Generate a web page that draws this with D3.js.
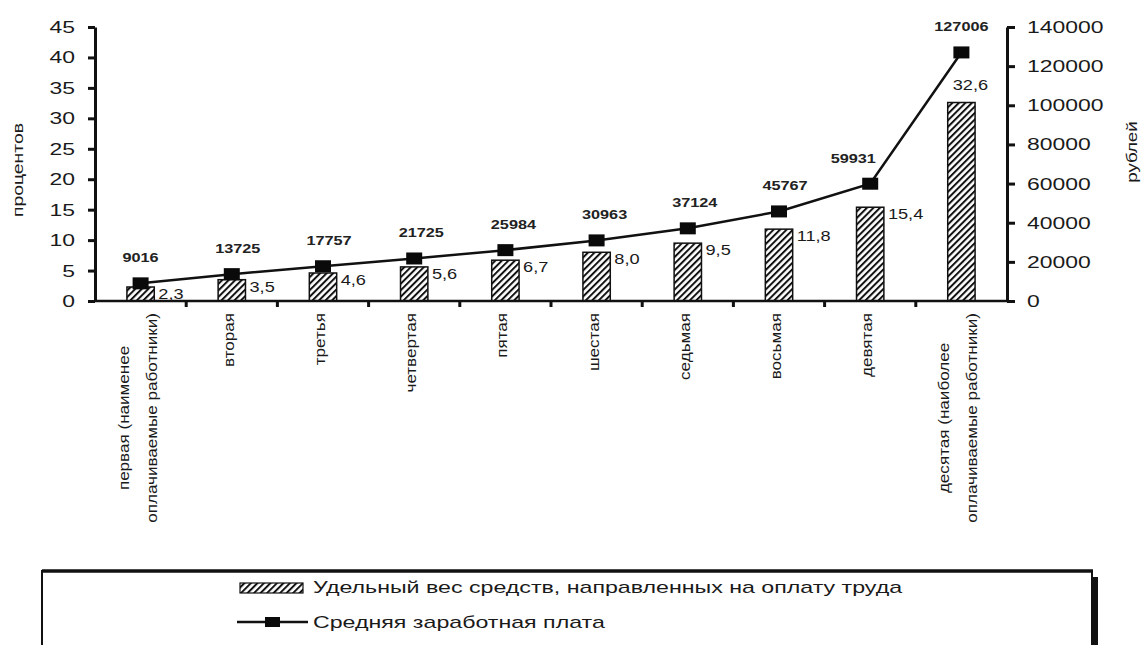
<!DOCTYPE html>
<html>
<head>
<meta charset="utf-8">
<script src="https://cdn.jsdelivr.net/npm/d3@7"></script>
<style>
  html, body { margin: 0; padding: 0; background: #fff; }
  svg { display: block; font-family: "Liberation Sans", Arial, sans-serif; }
</style>
</head>
<body>
<svg id="chart" width="1143" height="645"></svg>
<script>
// ---- data ----
const categories = [
  "первая (наименее\nоплачиваемые работники)",
  "вторая",
  "третья",
  "четвертая",
  "пятая",
  "шестая",
  "седьмая",
  "восьмая",
  "девятая",
  "десятая (наиболее\nоплачиваемые работники)"
];
const shareValues = [2.3, 3.5, 4.6, 5.6, 6.7, 8.0, 9.5, 11.8, 15.4, 32.6];
const wageValues = [9016, 13725, 17757, 21725, 25984, 30963, 37124, 45767, 59931, 127006];
const leftTicks = [0, 5, 10, 15, 20, 25, 30, 35, 40, 45];
const rightTicks = [0, 20000, 40000, 60000, 80000, 100000, 120000, 140000];
const leftTitle = "процентов";
const rightTitle = "рублей";
const legendLabels = ["Удельный вес средств, направленных на оплату труда", "Средняя заработная плата"];

// ---- layout ----
const plot = { left: 95, right: 1007, top: 27, bottom: 301 };
const lineLabelDx = [0, 6, 6, 7, 8, 8, 7, 6, -17, 0];

const svg = d3.select("#chart");
const defs = svg.append("defs");
defs.append("pattern")
  .attr("id", "hatch").attr("patternUnits", "userSpaceOnUse")
  .attr("width", 4.6).attr("height", 4.6)
  .attr("patternTransform", "rotate(45)")
  .call(p => {
    p.append("rect").attr("width", 4.6).attr("height", 4.6).attr("fill", "#fff");
    p.append("line").attr("x1", 1).attr("y1", 0).attr("x2", 1).attr("y2", 4.6)
      .attr("stroke", "#111").attr("stroke-width", 2);
  });

const x = d3.scaleBand().domain(d3.range(categories.length))
  .range([plot.left, plot.right]).paddingInner(0).paddingOuter(0);
const yL = d3.scaleLinear().domain([0, 45]).range([plot.bottom, plot.top]);
const yR = d3.scaleLinear().domain([0, 140000]).range([plot.bottom, plot.top]);
const cx = i => x(i) + x.bandwidth() / 2;
const barW = x.bandwidth() * 0.3;

// bars
svg.append("g").selectAll("rect").data(shareValues).join("rect")
  .attr("x", (d, i) => cx(i) - barW / 2)
  .attr("y", d => yL(d))
  .attr("width", barW)
  .attr("height", d => yL(0) - yL(d))
  .attr("fill", "url(#hatch)")
  .attr("stroke", "#111").attr("stroke-width", 1.5);

// axes
const axL = svg.append("g").attr("transform", `translate(${plot.left},0)`)
  .call(d3.axisLeft(yL).tickValues(leftTicks).tickSize(7).tickSizeOuter(0));
const axR = svg.append("g").attr("transform", `translate(${plot.right},0)`)
  .call(d3.axisRight(yR).tickValues(rightTicks).tickSize(8).tickSizeOuter(0).tickFormat(d3.format("d")));
[axL, axR].forEach(a => {
  a.select(".domain").attr("stroke", "#111").attr("stroke-width", 3);
  a.selectAll(".tick line").attr("stroke", "#111").attr("stroke-width", 3);
  a.selectAll("text").attr("fill", "#1a1a1a").attr("font-size", 17)
    .attr("font-family", "Liberation Sans, Arial, sans-serif").attr("x", 0);
});
axL.selectAll("text").attr("text-anchor", "end").attr("transform", "translate(-20,0) scale(1.35,1)");
axR.selectAll("text").attr("text-anchor", "start").attr("transform", "translate(20,0) scale(1.35,1)");

// x axis
svg.append("line").attr("x1", plot.left).attr("x2", plot.right)
  .attr("y1", plot.bottom).attr("y2", plot.bottom)
  .attr("stroke", "#111").attr("stroke-width", 2.5);
svg.append("g").selectAll("line").data(d3.range(1, categories.length)).join("line")
  .attr("x1", i => x(i)).attr("x2", i => x(i))
  .attr("y1", plot.bottom).attr("y2", plot.bottom + 6)
  .attr("stroke", "#111").attr("stroke-width", 3);

// category labels (rotated)
const labTop = plot.bottom + 12;
categories.forEach((c, i) => {
  const lines = c.split("\n");
  const g = svg.append("g").attr("transform", `translate(${cx(i)},${labTop})`);
  const texts = lines.map((ln, k) => g.append("text").text(ln)
    .attr("font-size", 14).attr("fill", "#1a1a1a").attr("text-anchor", "middle"));
  const M = d3.max(texts, t => t.node().getComputedTextLength());
  texts.forEach((t, k) => {
    const off = (k - (lines.length - 1) / 2) * 28 + 2;
    t.attr("transform", `translate(${off},0) rotate(-90) scale(1.22,1)`)
     .attr("x", -M / 2).attr("y", 0);
  });
});

// line
const line = d3.line().x((d, i) => cx(i)).y(d => yR(d));
svg.append("path").datum(wageValues).attr("d", line)
  .attr("fill", "none").attr("stroke", "#111").attr("stroke-width", 2.5);
svg.append("g").selectAll("rect").data(wageValues).join("rect")
  .attr("x", (d, i) => cx(i) - 8).attr("y", d => yR(d) - 6)
  .attr("width", 16).attr("height", 12).attr("fill", "#0a0a0a");

// line labels
svg.append("g").selectAll("text").data(wageValues).join("text")
  .attr("transform", (d, i) => `translate(${cx(i) + lineLabelDx[i]},${yR(d) - 21}) scale(1.25,1)`)
  .attr("text-anchor", "middle").attr("font-size", 13).attr("font-weight", "bold")
  .attr("fill", "#222").text(d => d);

// bar labels
const fmt = v => d3.format(".1f")(v).replace(".", ",");
const last = shareValues.length - 1;
svg.append("g").selectAll("text").data(shareValues).join("text")
  .attr("transform", (d, i) => i === last
    ? `translate(${cx(i) - barW / 2 + 5},${yL(d) - 13}) scale(1.3,1)`
    : `translate(${cx(i) + barW / 2 + 4},${yL(d) + 12}) scale(1.3,1)`)
  .attr("font-size", 14).attr("fill", "#1a1a1a").text(d => fmt(d));

// axis titles
svg.append("text").attr("transform", `translate(23,170) rotate(-90) scale(1.38,1)`)
  .attr("text-anchor", "middle").attr("font-size", 14).attr("fill", "#1a1a1a").text(leftTitle);
svg.append("text").attr("transform", `translate(1137,152) rotate(-90) scale(1.25,1)`)
  .attr("text-anchor", "middle").attr("font-size", 15).attr("fill", "#1a1a1a").text(rightTitle);

// legend
const lg = svg.append("g");
lg.append("rect").attr("x", 42).attr("y", 571).attr("width", 1050).attr("height", 90)
  .attr("fill", "#fff").attr("stroke", "#111").attr("stroke-width", 2);
lg.append("line").attr("x1", 42).attr("x2", 1093).attr("y1", 571).attr("y2", 571)
  .attr("stroke", "#111").attr("stroke-width", 3.5);
lg.append("rect").attr("x", 1091).attr("y", 577).attr("width", 7).attr("height", 70).attr("fill", "#111");
lg.append("rect").attr("x", 240).attr("y", 583).attr("width", 63).attr("height", 10)
  .attr("fill", "url(#hatch)").attr("stroke", "#111").attr("stroke-width", 1.2);
lg.append("text").attr("transform", "translate(313,593) scale(1.45,1)")
  .attr("font-size", 16).attr("fill", "#1a1a1a").text(legendLabels[0]);
lg.append("line").attr("x1", 237).attr("x2", 308).attr("y1", 622).attr("y2", 622)
  .attr("stroke", "#111").attr("stroke-width", 2.5);
lg.append("rect").attr("x", 265).attr("y", 617).attr("width", 15).attr("height", 10).attr("fill", "#0a0a0a");
lg.append("text").attr("transform", "translate(313,628) scale(1.45,1)")
  .attr("font-size", 16).attr("fill", "#1a1a1a").text(legendLabels[1]);
</script>
</body>
</html>
